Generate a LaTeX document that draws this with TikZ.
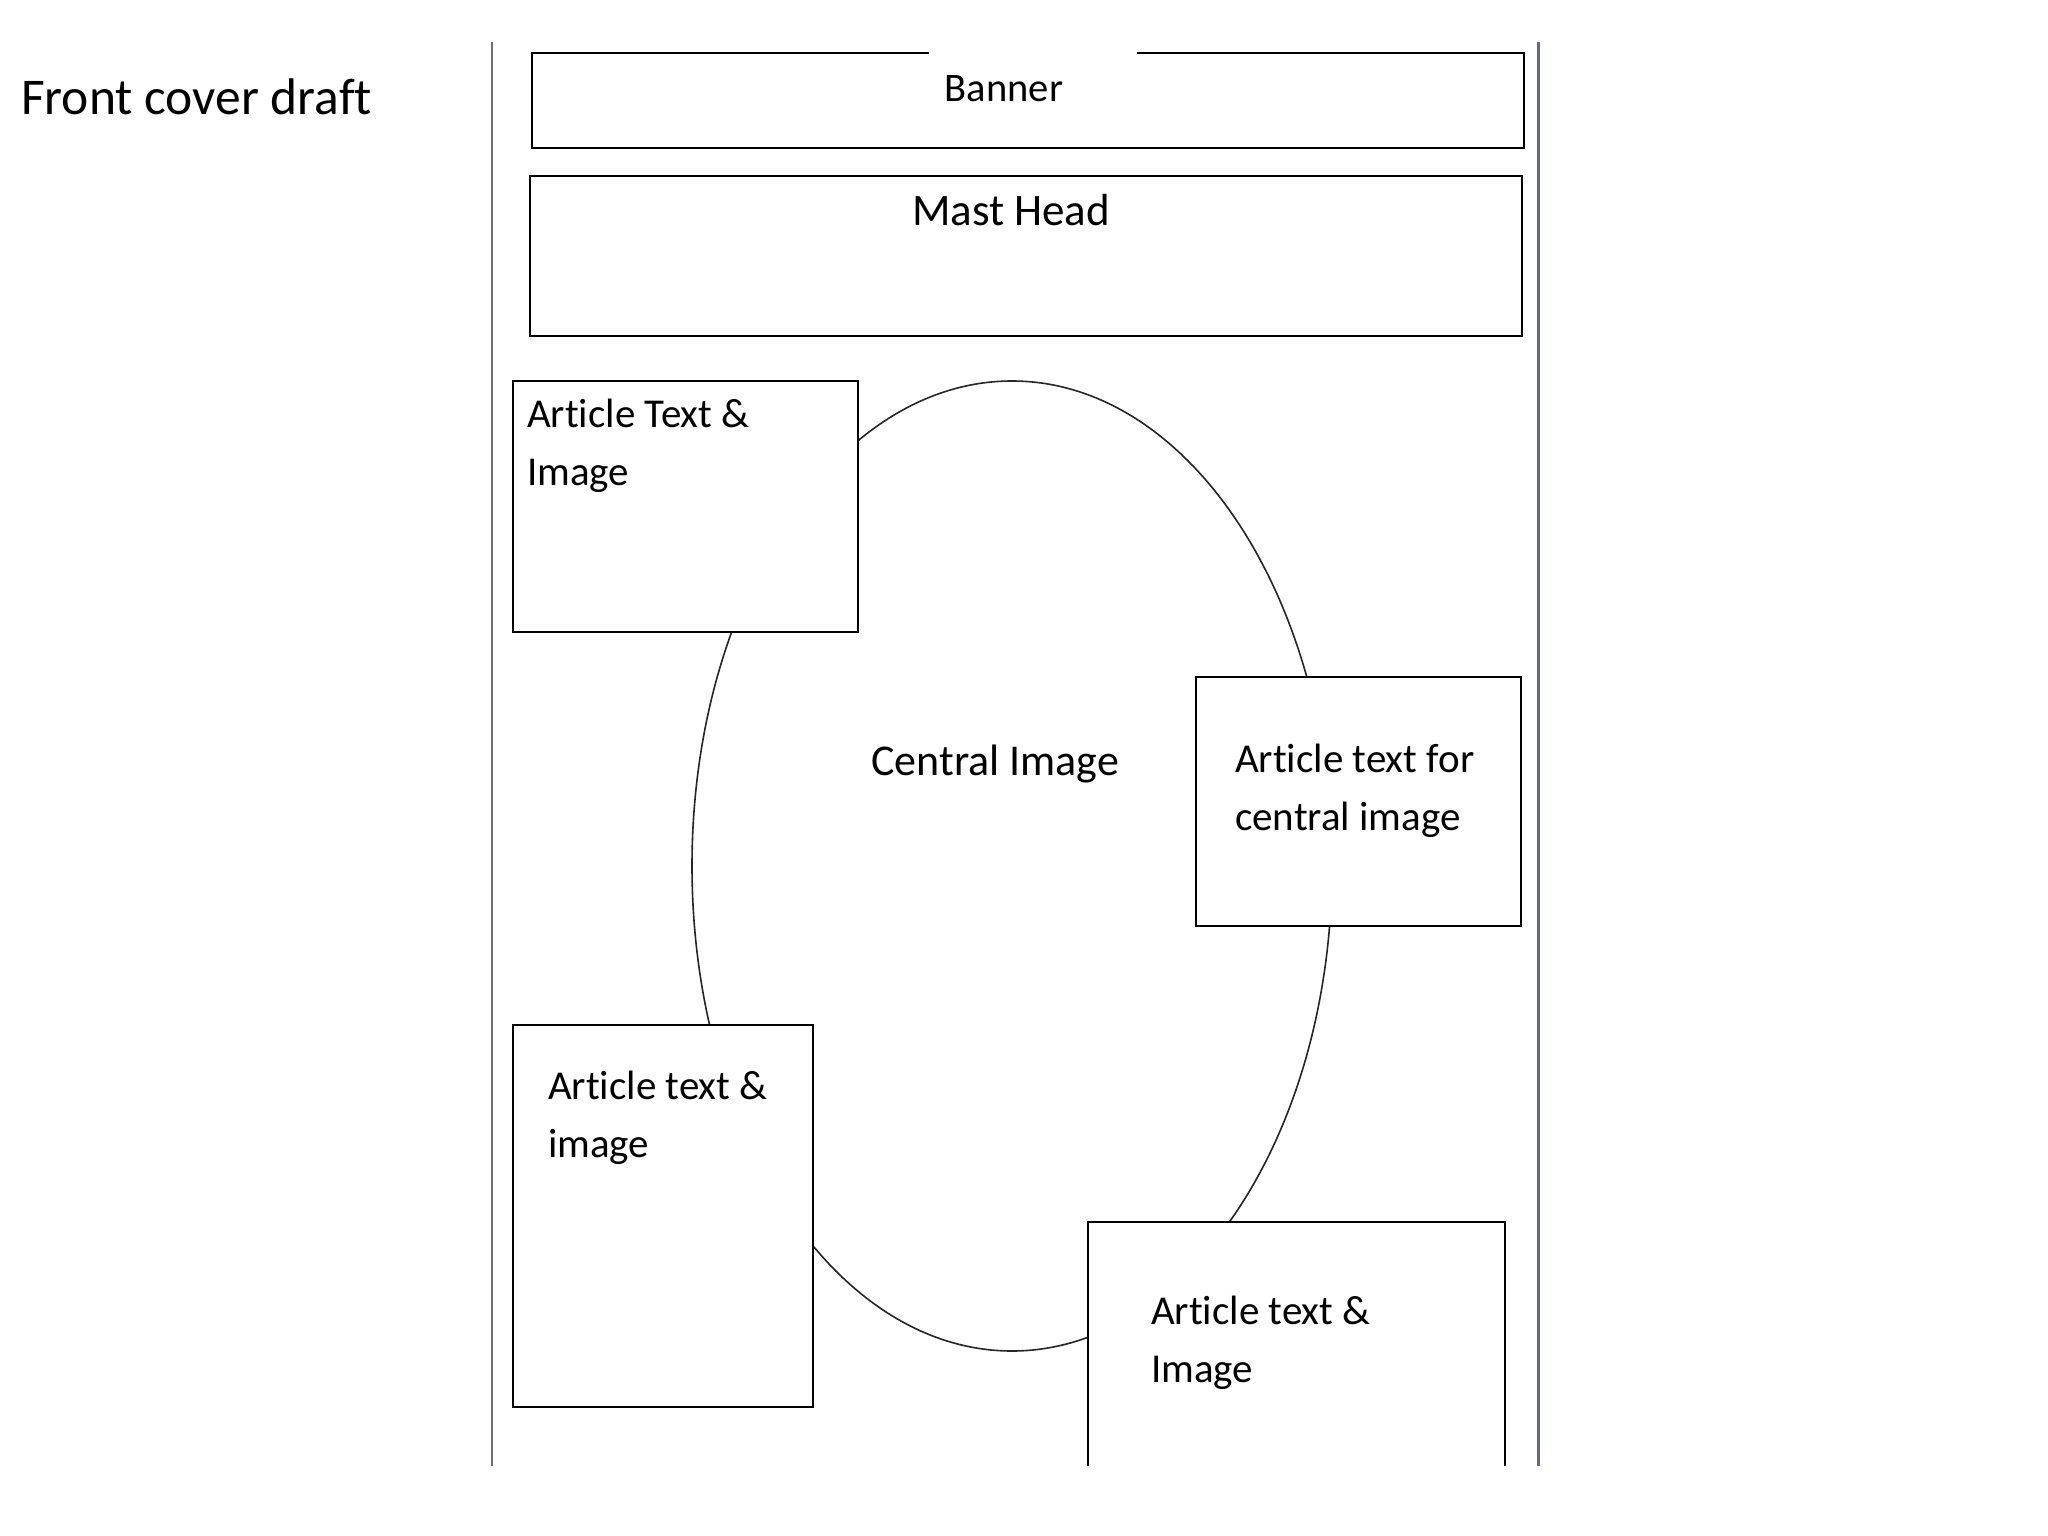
\documentclass[tikz,border=0pt]{standalone}
\usepackage{fontspec}
\setmainfont{Carlito}[Ligatures=NoCommon]
\definecolor{leftrule}{HTML}{707070}
\definecolor{rightrule}{HTML}{5F6A86}
\begin{document}
\begin{tikzpicture}[x=1pt,y=-1pt,
  boxline/.style={draw=black,line width=2.2pt,fill=white},
  boxtxt/.style={font=\fontsize{41}{50}\selectfont,anchor=base west,inner sep=0pt,text=black},
  ovalline/.style={draw=black!85,line width=1.6pt}]
\useasboundingbox[fill=white] (0,0) rectangle (2048,1536);
% title
\node[anchor=base west,inner sep=0pt,font=\fontsize{51.5}{60}\selectfont] (title) at (21,115) {Front cover draft};
% page rules
\coordinate (lt) at (492,42); \coordinate (lb) at (492,1466);
\coordinate (rt) at (1538,42); \coordinate (rb) at (1538,1466);
\draw[leftrule,line width=1.8pt] (lt) -- (lb);
\draw[rightrule,line width=3pt] (rt) -- (rb);
% banner (top edge with gap)
\fill[white] (532,53) rectangle (1524,148);
\draw[line width=2.2pt,line join=miter] (929,53) -- (532,53) -- (532,148) -- (1524,148) -- (1524,53) -- (1137,53);
\node[anchor=base,inner sep=0pt,font=\fontsize{40.5}{48}\selectfont] (banner) at (1004,102) {Banner};
% mast head
\draw[boxline] (530,176) rectangle (1522,336);
\node[anchor=base,inner sep=0pt,font=\fontsize{45}{54}\selectfont] (mast) at (1011,225) {Mast Head};
% central image oval
\draw[ovalline] (1012,866) ellipse [x radius=320, y radius=485];
\node[anchor=base west,inner sep=0pt,font=\fontsize{44}{52}\selectfont] (central) at (871,775) {Central Image};
% article boxes
\draw[boxline] (513,381) rectangle (858,632);
\node[boxtxt] (a1) at (527,427) {Article Text \&};
\node[boxtxt] (a1b) at (527,485) {Image};
\draw[boxline] (1196,677) rectangle (1521,926);
\node[boxtxt] (a2) at (1235,772) {Article text for};
\node[boxtxt] (a2b) at (1235,830) {central image};
\draw[boxline] (513,1025) rectangle (813,1407);
\node[boxtxt] (a3) at (548,1099) {Article text \&};
\node[boxtxt] (a3b) at (548,1157) {image};
\fill[white] (1088,1222) rectangle (1505,1466);
\draw[line width=2.2pt] (1088,1466) -- (1088,1222) -- (1505,1222) -- (1505,1466);
\node[boxtxt] (a4) at (1151,1324) {Article text \&};
\node[boxtxt] (a4b) at (1151,1382) {Image};
\end{tikzpicture}
\end{document}
